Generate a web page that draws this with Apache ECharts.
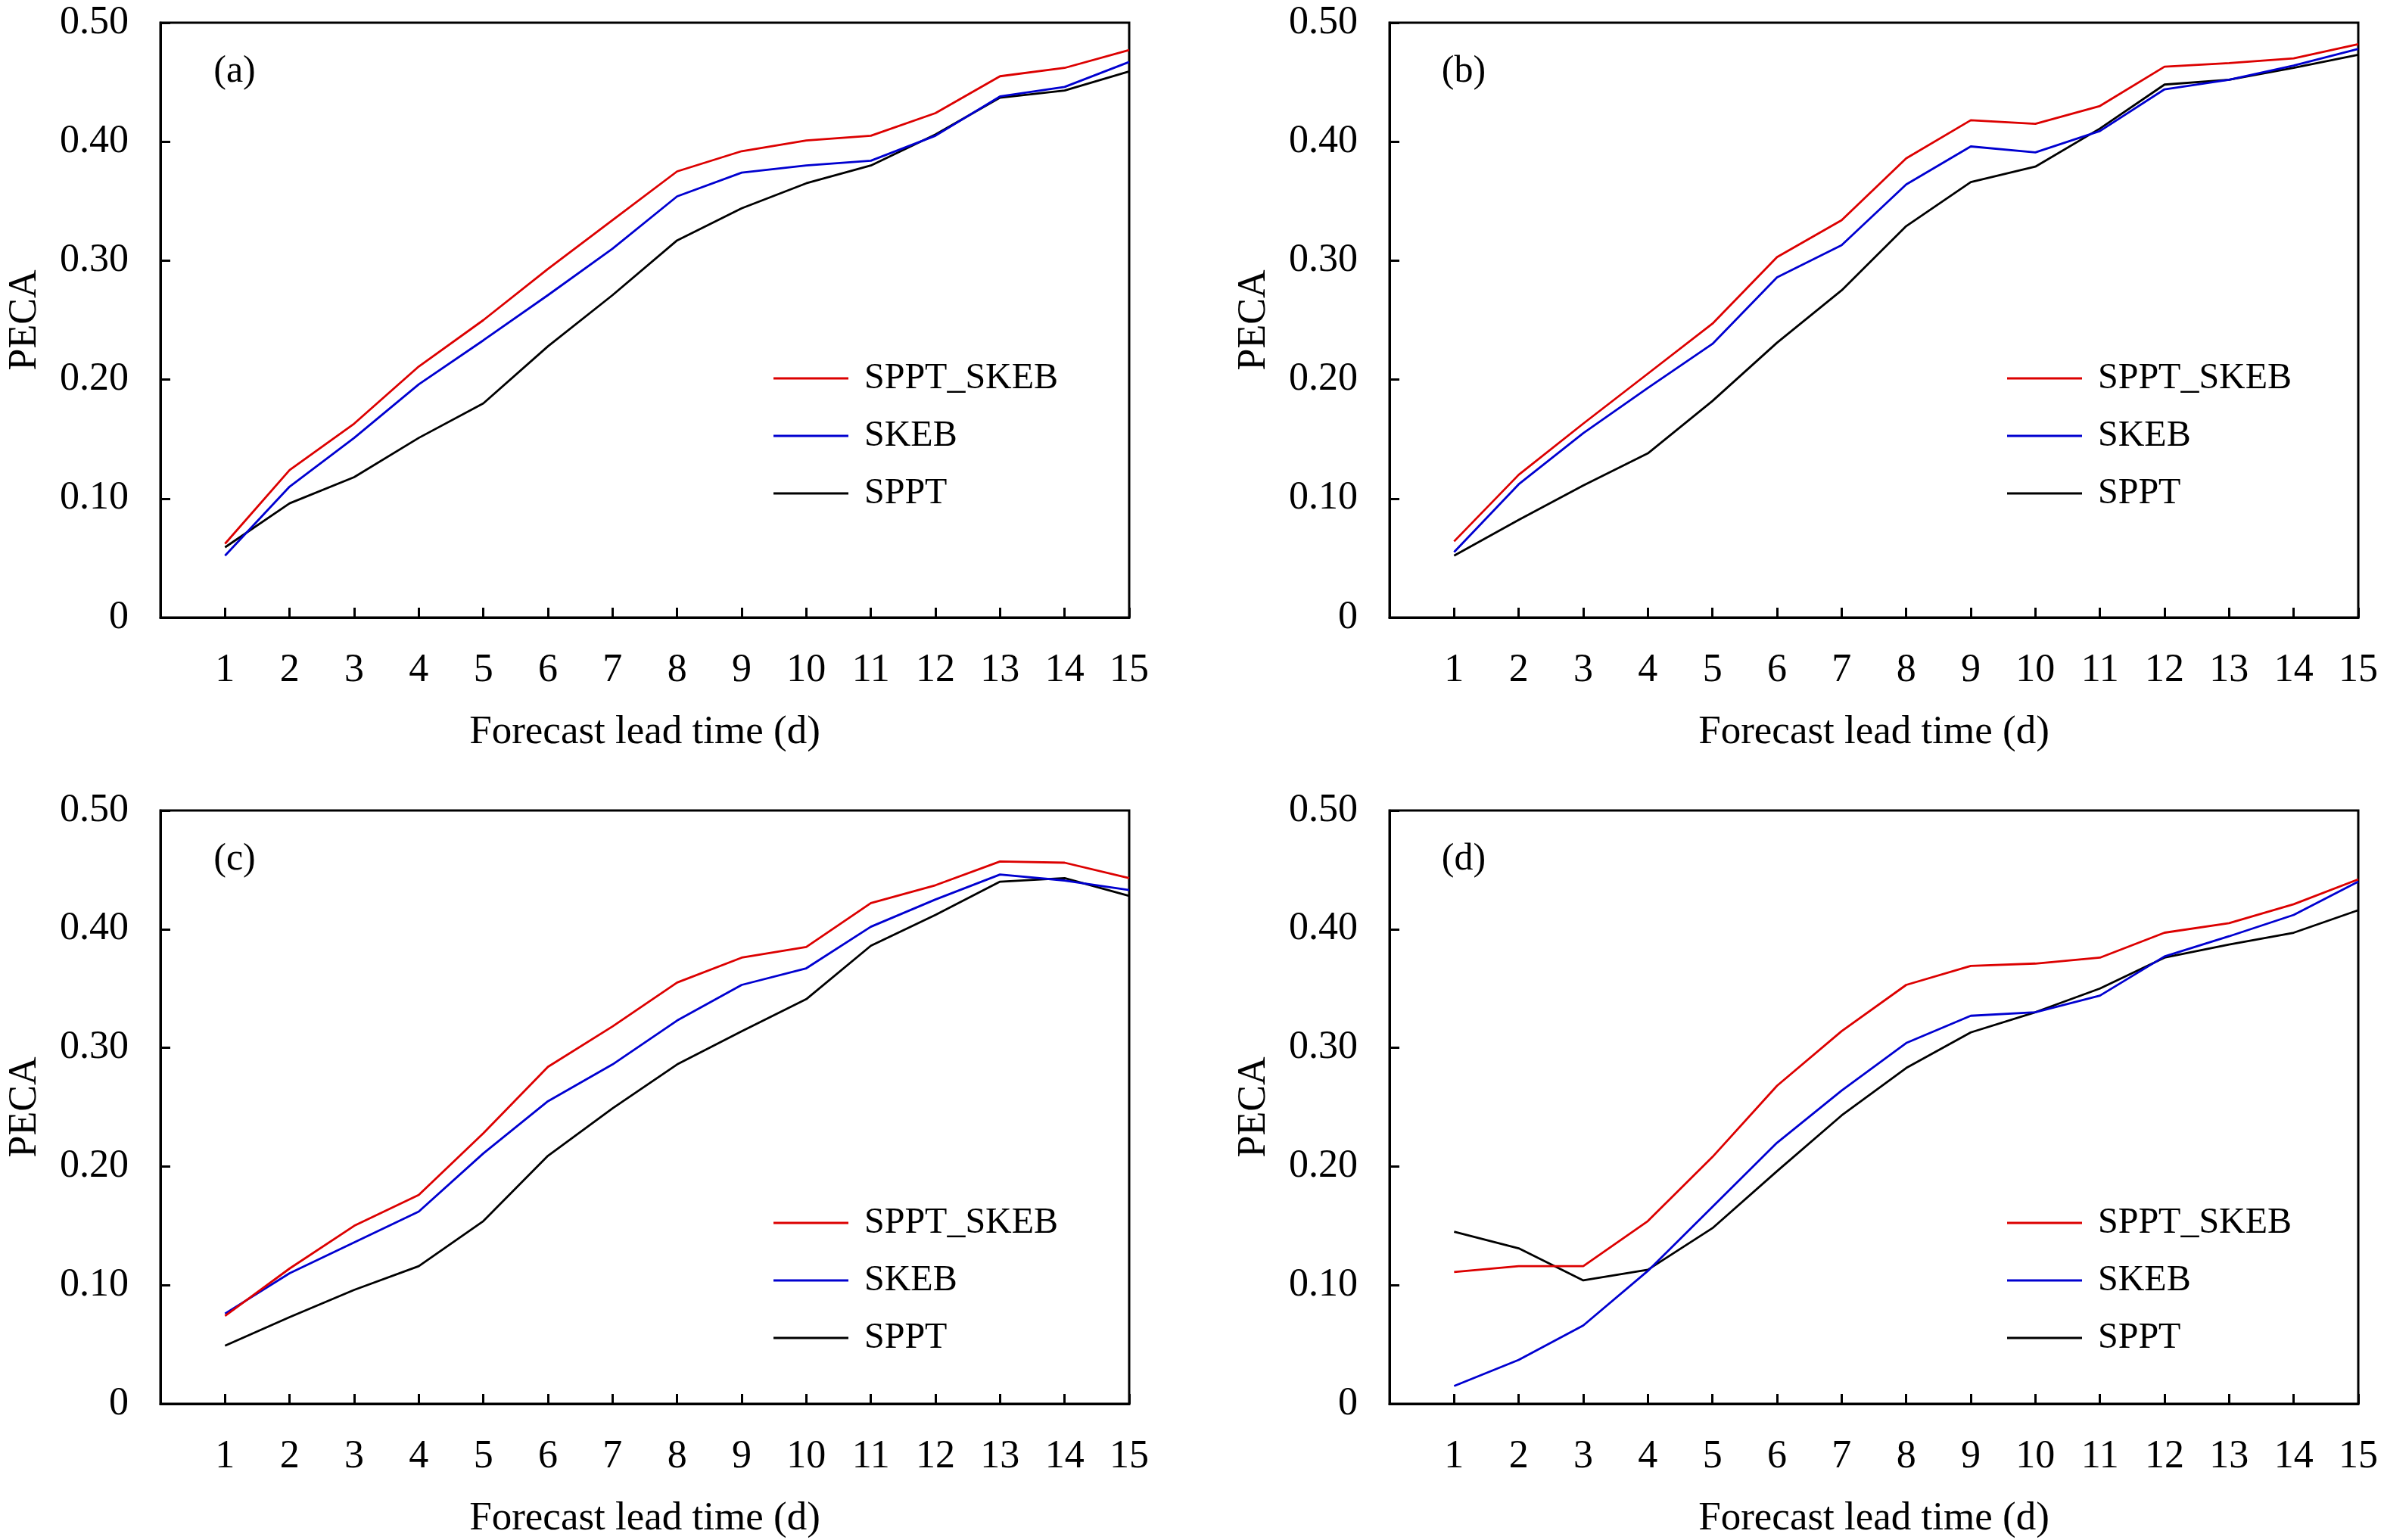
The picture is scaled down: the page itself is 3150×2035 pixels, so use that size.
<!DOCTYPE html>
<html>
<head>
<meta charset="utf-8">
<script src="https://cdn.jsdelivr.net/npm/echarts@6/dist/echarts.min.js"></script>
<style>
html,body{margin:0;padding:0;background:#fff;}
#chart{width:3150px;height:2035px;}
</style>
</head>
<body>
<div id="chart"></div>
<script>
// ---- data ----
const days = [1,2,3,4,5,6,7,8,9,10,11,12,13,14,15];
const yTicks = [0, 0.1, 0.2, 0.3, 0.4, 0.5];
const seriesNames = ['SPPT_SKEB', 'SKEB', 'SPPT'];
const panelLabels = ['(a)', '(b)', '(c)', '(d)'];

const a_SPPT_SKEB = [0.062,0.124,0.163,0.211,0.250,0.293,0.334,0.375,0.392,0.401,0.405,0.424,0.455,0.462,0.477];
const a_SKEB      = [0.052,0.110,0.151,0.196,0.233,0.271,0.310,0.354,0.374,0.380,0.384,0.405,0.438,0.446,0.467];
const a_SPPT      = [0.059,0.096,0.118,0.151,0.180,0.228,0.271,0.317,0.344,0.365,0.380,0.406,0.437,0.443,0.459];

const b_SPPT_SKEB = [0.064,0.120,0.163,0.205,0.247,0.303,0.334,0.386,0.418,0.415,0.430,0.463,0.466,0.470,0.482];
const b_SKEB      = [0.055,0.112,0.155,0.193,0.230,0.286,0.313,0.364,0.396,0.391,0.409,0.444,0.452,0.464,0.478];
const b_SPPT      = [0.052,0.082,0.111,0.138,0.182,0.231,0.275,0.329,0.366,0.379,0.411,0.448,0.452,0.462,0.473];

const c_SPPT_SKEB = [0.074,0.114,0.150,0.176,0.228,0.284,0.318,0.355,0.376,0.385,0.422,0.437,0.457,0.456,0.443];
const c_SKEB      = [0.076,0.110,0.136,0.162,0.211,0.255,0.286,0.323,0.353,0.367,0.402,0.425,0.446,0.441,0.433];
const c_SPPT      = [0.049,0.073,0.096,0.116,0.154,0.209,0.249,0.286,0.314,0.341,0.386,0.412,0.440,0.443,0.428];

const d_SPPT_SKEB = [0.111,0.116,0.116,0.154,0.208,0.268,0.314,0.353,0.369,0.371,0.376,0.397,0.405,0.421,0.442];
const d_SKEB      = [0.015,0.037,0.066,0.112,0.166,0.220,0.264,0.304,0.327,0.330,0.344,0.377,0.394,0.412,0.440];
const d_SPPT      = [0.145,0.131,0.104,0.113,0.148,0.196,0.243,0.283,0.313,0.330,0.350,0.376,0.387,0.397,0.416];

const panelData = [
  [a_SPPT_SKEB, a_SKEB, a_SPPT],
  [b_SPPT_SKEB, b_SKEB, b_SPPT],
  [c_SPPT_SKEB, c_SKEB, c_SPPT],
  [d_SPPT_SKEB, d_SKEB, d_SPPT]
];

// ---- layout / style ----
const FONT = 'Liberation Serif';
const colors = ['#dc0000', '#0000d0', '#000000'];
const grids = [
  {left: 212, top: 30},
  {left: 1836, top: 30},
  {left: 212, top: 1071},
  {left: 1836, top: 1071}
];
const GW = 1280, GH = 786;
const legendTops = [476, 476, 1592, 1592];
const legendOffsets = [810, 816, 810, 816];

const option = {
  animation: false,
  backgroundColor: '#fff',
  textStyle: {fontFamily: FONT},
  grid: grids.map(g => ({
    left: g.left, top: g.top, width: GW, height: GH,
    show: true, borderColor: '#000', borderWidth: 3, backgroundColor: 'transparent'
  })),
  xAxis: grids.map((g, i) => ({
    type: 'value', gridIndex: i, min: 0, max: 15, interval: 1,
    name: 'Forecast lead time (d)', nameLocation: 'middle', nameGap: 126,
    nameTextStyle: {fontFamily: FONT, fontSize: 53, color: '#000'},
    axisLine: {show: true, lineStyle: {color: '#000', width: 3}},
    axisTick: {show: true, inside: true, length: 13, lineStyle: {color: '#000', width: 3}},
    axisLabel: {
      show: true, margin: 44, fontFamily: FONT, fontSize: 52, color: '#000',
      formatter: v => (days.indexOf(v) >= 0 ? String(v) : '')
    },
    splitLine: {show: false}
  })),
  yAxis: grids.map((g, i) => ({
    type: 'value', gridIndex: i, min: 0, max: 0.5, interval: 0.1,
    name: 'PECA', nameLocation: 'middle', nameGap: 153,
    nameTextStyle: {fontFamily: FONT, fontSize: 52, color: '#000'},
    axisLine: {show: true, lineStyle: {color: '#000', width: 3}},
    axisTick: {show: true, inside: true, length: 13, lineStyle: {color: '#000', width: 3}},
    axisLabel: {
      show: true, margin: 42, fontFamily: FONT, fontSize: 52, color: '#000',
      formatter: v => {
        const t = yTicks.find(k => Math.abs(k - v) < 1e-9);
        if (t === undefined) return '';
        return t === 0 ? '0' : t.toFixed(2);
      }
    },
    splitLine: {show: false}
  })),
  legend: grids.map((g, i) => ({
    orient: 'vertical',
    left: g.left + legendOffsets[i], top: legendTops[i],
    icon: 'rect',
    itemWidth: 99, itemHeight: 3, itemGap: 28,
    padding: 0,
    data: seriesNames,
    textStyle: {fontFamily: FONT, fontSize: 48, color: '#000', lineHeight: 48, padding: [0, 0, 0, 16]},
    selectedMode: false
  })),
  graphic: grids.map((g, i) => ({
    type: 'text',
    x: g.left + 98,
    y: g.top + 65,
    style: {
      text: panelLabels[i], font: '50px ' + FONT, fill: '#000',
      align: 'center', verticalAlign: 'middle',
      textAlign: 'center', textVerticalAlign: 'middle'
    }
  })),
  series: []
};

panelData.forEach((arrs, gi) => {
  arrs.forEach((vals, si) => {
    option.series.push({
      type: 'line',
      name: seriesNames[si],
      xAxisIndex: gi, yAxisIndex: gi,
      data: days.map((d, k) => [d, vals[k]]),
      symbol: 'none',
      smooth: false,
      lineStyle: {color: colors[si], width: 2.8},
      itemStyle: {color: colors[si]},
      z: 5 - si
    });
  });
});

const chart = echarts.init(document.getElementById('chart'), null, {renderer: 'canvas'});
chart.setOption(option);
</script>
</body>
</html>
